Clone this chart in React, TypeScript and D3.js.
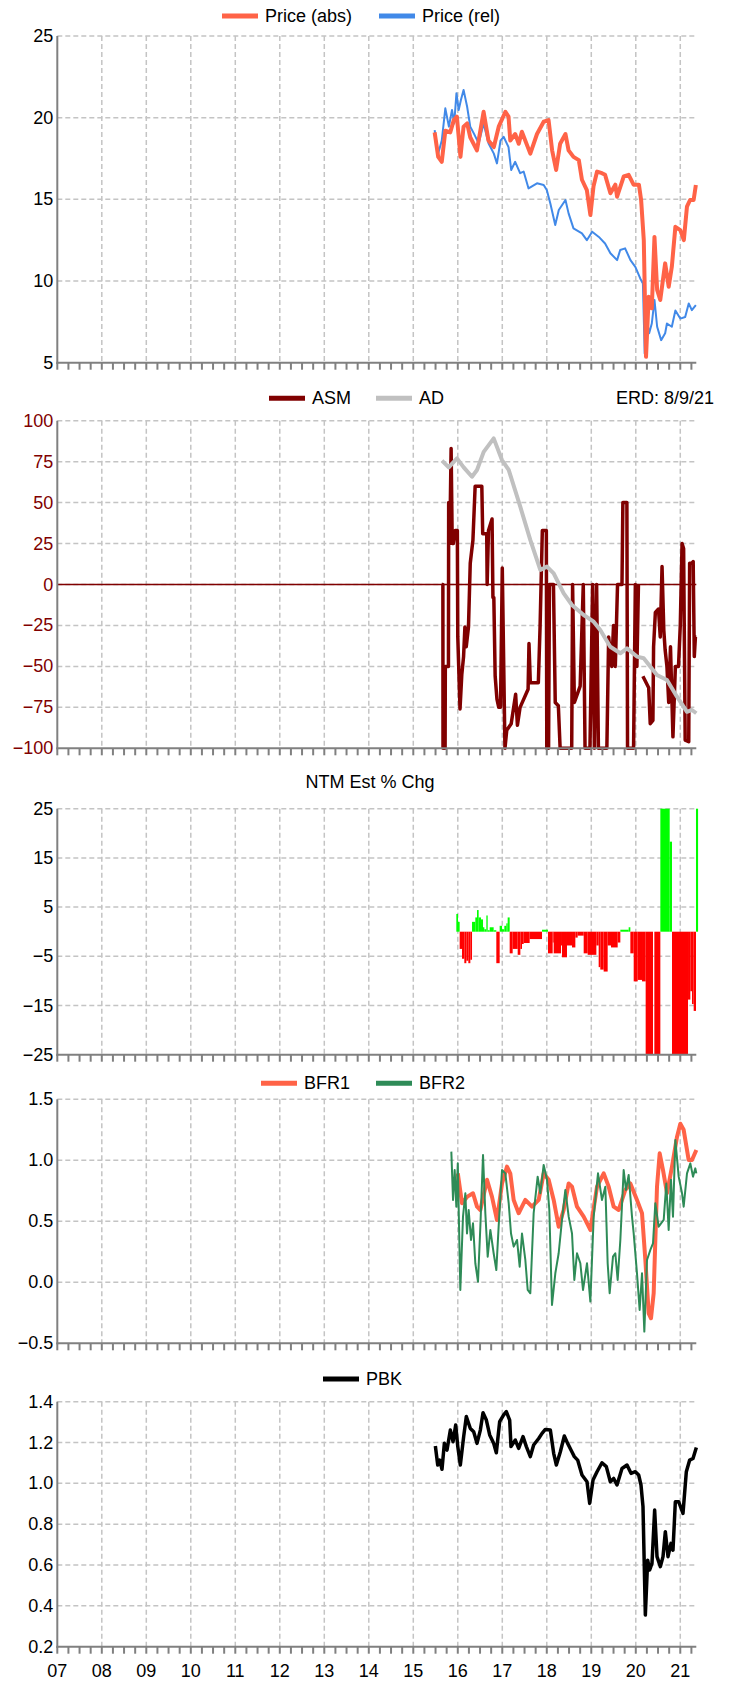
import React from "react";
import * as d3 from "d3";

// ---------------- DATA ----------------
const yearTicks = [2007, 2008, 2009, 2010, 2011, 2012, 2013, 2014, 2015, 2016, 2017, 2018, 2019, 2020, 2021];

const priceAbs: [number, number][] = [
  [2015.48, 19.1], [2015.56, 17.6], [2015.64, 17.3], [2015.72, 19.2], [2015.83, 19.1], [2015.91, 19.85],
  [2015.98, 20.06], [2016.06, 17.6], [2016.13, 19.45], [2016.21, 19.65], [2016.28, 18.8], [2016.43, 18.0],
  [2016.58, 20.36], [2016.69, 18.6], [2016.81, 18.2], [2016.92, 19.45], [2017.07, 20.36], [2017.14, 20.06],
  [2017.18, 18.6], [2017.29, 19.0], [2017.37, 18.4], [2017.44, 19.14], [2017.63, 17.8], [2017.78, 19.0],
  [2017.93, 19.75], [2018.04, 19.85], [2018.12, 18.0], [2018.21, 16.8], [2018.30, 18.4], [2018.42, 19.0],
  [2018.49, 18.0], [2018.60, 17.6], [2018.72, 17.4], [2018.79, 16.2], [2018.90, 15.57], [2018.98, 14.04],
  [2019.05, 15.8], [2019.13, 16.7], [2019.24, 16.6], [2019.31, 16.5], [2019.43, 15.37], [2019.54, 15.9],
  [2019.58, 15.16], [2019.73, 16.4], [2019.84, 16.5], [2019.95, 15.9], [2020.07, 15.9], [2020.12, 14.96],
  [2020.18, 12.5], [2020.23, 5.36], [2020.29, 9.04], [2020.36, 8.33], [2020.42, 12.7], [2020.48, 9.45],
  [2020.55, 8.84], [2020.66, 11.08], [2020.74, 9.65], [2020.81, 10.87], [2020.89, 13.32], [2021.0, 13.12],
  [2021.08, 12.5], [2021.15, 14.55], [2021.22, 14.96], [2021.30, 14.96], [2021.35, 15.88],
];

const priceRel: [number, number][] = [
  [2015.48, 19.24], [2015.56, 17.8], [2015.64, 18.6], [2015.72, 20.57], [2015.80, 19.45], [2015.87, 20.47],
  [2015.92, 19.65], [2015.97, 21.5], [2016.02, 20.47], [2016.07, 21.08], [2016.13, 21.7], [2016.21, 20.67],
  [2016.28, 19.45], [2016.36, 19.04], [2016.47, 18.43], [2016.58, 19.65], [2016.69, 18.43], [2016.81, 17.8],
  [2016.88, 17.2], [2016.96, 18.6], [2017.03, 18.83], [2017.14, 18.2], [2017.20, 16.8], [2017.29, 17.3],
  [2017.40, 16.6], [2017.48, 16.7], [2017.59, 15.67], [2017.78, 15.98], [2017.93, 15.88], [2018.0, 15.57],
  [2018.08, 14.75], [2018.19, 13.43], [2018.27, 14.35], [2018.42, 14.96], [2018.49, 14.14], [2018.60, 13.22],
  [2018.79, 12.92], [2018.90, 12.5], [2019.02, 13.02], [2019.17, 12.7], [2019.31, 12.3], [2019.43, 11.7],
  [2019.58, 11.28], [2019.65, 11.9], [2019.76, 12.0], [2019.88, 11.28], [2019.99, 10.87], [2020.10, 10.16],
  [2020.16, 9.85], [2020.20, 5.57], [2020.25, 7.6], [2020.30, 6.8], [2020.36, 7.4], [2020.42, 8.84],
  [2020.48, 7.2], [2020.57, 6.38], [2020.66, 6.8], [2020.70, 7.4], [2020.81, 7.2], [2020.89, 8.2],
  [2021.0, 7.7], [2021.11, 7.8], [2021.19, 8.63], [2021.26, 8.22], [2021.35, 8.53],
];

const asm: [number, number | null][] = [
  [2015.64, 0], [2015.665, 0], [2015.668, -100], [2015.715, -100], [2015.72, -50], [2015.79, -50],
  [2015.795, 50], [2015.81, 50], [2015.82, 25], [2015.85, 83], [2015.875, 25], [2015.90, 25],
  [2015.94, 33], [2015.99, 33], [2016.0, -32], [2016.05, -76], [2016.09, -55], [2016.13, -44],
  [2016.16, -26], [2016.19, -38], [2016.24, -26], [2016.28, 13], [2016.34, 27], [2016.39, 60],
  [2016.54, 60], [2016.56, 31], [2016.65, 31], [2016.66, 0], [2016.69, 33], [2016.77, 40],
  [2016.79, -8], [2016.81, -8], [2016.84, -56], [2016.88, -70], [2016.92, -75], [2016.96, -75],
  [2017.0, 10], [2017.06, -100], [2017.10, -89], [2017.20, -85], [2017.30, -67], [2017.34, -86],
  [2017.40, -75], [2017.58, -64], [2017.60, -36], [2017.63, -60], [2017.81, -60], [2017.85, -25],
  [2017.90, 33], [2017.99, 33], [2018.0, -100], [2018.04, -100], [2018.06, 0], [2018.15, 0],
  [2018.19, -72], [2018.26, -74], [2018.30, -100], [2018.56, -100], [2018.58, 0], [2018.62, -72],
  [2018.75, -62], [2018.82, 0], [2018.86, -100], [2018.97, -100], [2019.03, 0], [2019.07, -100],
  [2019.12, 0], [2019.16, -100], [2019.35, -100], [2019.39, -32], [2019.46, -50], [2019.50, -25],
  [2019.54, -50], [2019.59, 0], [2019.69, 0], [2019.71, 50], [2019.80, 50], [2019.815, -100],
  [2019.95, -100], [2019.99, 0], [2020.025, -50], [2020.06, 0], [2020.10, null],
  [2020.16, -56], [2020.29, -63], [2020.325, -85], [2020.385, -83], [2020.40, -38], [2020.44, -17],
  [2020.51, -15], [2020.55, -32], [2020.59, 11], [2020.63, -28], [2020.66, -40], [2020.70, -50],
  [2020.74, -72], [2020.78, -38], [2020.835, -93], [2020.89, -50], [2020.96, -50], [2021.0, -25],
  [2021.04, 25], [2021.075, 22], [2021.11, -95], [2021.19, -96], [2021.21, 13], [2021.26, 13],
  [2021.29, 14], [2021.315, -44], [2021.34, -32], [2021.36, -32],
];

const ad: [number, number][] = [
  [2015.645, 75.6], [2015.796, 71.5], [2015.982, 77], [2016.133, 71.5], [2016.319, 65.8], [2016.432, 69.9],
  [2016.582, 81], [2016.807, 89.2], [2016.993, 76], [2017.144, 70], [2017.404, 47.5], [2017.629, 27.2],
  [2017.854, 8.9], [2018.004, 10.9], [2018.155, 6.8], [2018.38, -5.4], [2018.566, -12.5], [2018.829, -18.6],
  [2019.054, -22.7], [2019.202, -27.8], [2019.427, -38], [2019.652, -42], [2019.802, -39], [2020.027, -44],
  [2020.178, -45], [2020.476, -55.2], [2020.701, -58.3], [2020.926, -68.5], [2021.151, -77.7], [2021.263, -76.6],
  [2021.36, -78.6],
];

const ntmBars: [number, number][] = [
  [2015.967, 3.6], [2016.005, 2.0], [2016.042, -3.5], [2016.095, -5.5], [2016.147, -6.4], [2016.192, -5.9],
  [2016.237, -6.4], [2016.282, -5.7], [2016.32, 2.0], [2016.394, 2.9], [2016.432, 4.4], [2016.469, 2.9],
  [2016.522, 2.5], [2016.567, 0.9], [2016.597, 0.5], [2016.642, 3.3], [2016.672, 0.3], [2016.717, 0.9],
  [2016.806, 0.3], [2016.866, -6.4], [2016.941, 1.2], [2016.994, 0.5], [2017.046, 1.2], [2017.091, 1.7],
  [2017.121, 2.9], [2017.166, -4.4], [2017.233, -3.5], [2017.346, -4.7], [2017.406, -3.5], [2017.443, -2.5],
  [2017.481, -2.3], [2017.615, -1.5], [2017.893, 0.4], [2018.027, -4.4], [2018.132, -2.2], [2018.155, -4.4],
  [2018.32, -2.8], [2018.342, -5.2], [2018.454, -2.8], [2018.567, -3.2], [2018.642, -1.2], [2018.694, -0.8],
  [2018.829, -4.4], [2018.919, -4.7], [2019.114, -2.8], [2019.166, -7.2], [2019.203, -7.7], [2019.278, -8.1],
  [2019.368, -2.8], [2019.443, -3.2], [2019.593, -2.2], [2019.653, 0.4], [2019.84, 0.9], [2019.878, -4.4],
  [2019.953, -10.1], [2020.043, -9.8], [2020.14, -10.1], [2020.222, -25], [2020.387, 0], [2020.417, -25],
  [2020.552, 25], [2020.762, 18.3], [2020.814, -25], [2021.174, -13.8], [2021.226, -12.1], [2021.263, -14.7],
  [2021.301, -16.1], [2021.353, 25],
];
const ntmEnd = 2021.4;

const bfr1: [number, number][] = [
  [2016.0, 0.893], [2016.095, 0.648], [2016.207, 0.70], [2016.342, 0.73], [2016.432, 0.62], [2016.507, 0.593],
  [2016.657, 0.84], [2016.769, 0.70], [2016.881, 0.51], [2016.994, 0.81], [2017.106, 0.948], [2017.181, 0.89],
  [2017.256, 0.675], [2017.368, 0.566], [2017.518, 0.675], [2017.668, 0.62], [2017.818, 0.675], [2017.93, 0.893],
  [2018.042, 0.84], [2018.155, 0.675], [2018.267, 0.456], [2018.379, 0.593], [2018.492, 0.81], [2018.567, 0.784],
  [2018.679, 0.62], [2018.829, 0.538], [2018.979, 0.429], [2019.129, 0.784], [2019.279, 0.893], [2019.391, 0.784],
  [2019.503, 0.62], [2019.616, 0.593], [2019.765, 0.757], [2019.878, 0.81], [2020.027, 0.675], [2020.14, 0.566],
  [2020.215, 0.183], [2020.29, -0.254], [2020.342, -0.295], [2020.402, -0.09], [2020.477, 0.784], [2020.537, 1.057],
  [2020.612, 0.92], [2020.702, 0.73], [2020.814, 0.948], [2020.927, 1.194], [2021.001, 1.30], [2021.076, 1.25],
  [2021.188, 1.003], [2021.263, 1.003], [2021.361, 1.085],
];

const bfr2: [number, number][] = [
  [2015.855, 1.071], [2015.893, 0.675], [2015.93, 0.92], [2015.967, 0.62], [2016.0, 0.975], [2016.057, -0.063],
  [2016.117, 0.538], [2016.17, 0.73], [2016.207, 0.40], [2016.245, 0.593], [2016.297, 0.347], [2016.342, 0.484],
  [2016.394, 0.156], [2016.454, 0.005], [2016.507, 0.456], [2016.567, 1.044], [2016.619, 0.566], [2016.672, 0.21],
  [2016.732, 0.429], [2016.806, 0.238], [2016.866, 0.101], [2016.918, 0.456], [2016.994, 0.92], [2017.069, 0.893],
  [2017.144, 0.648], [2017.196, 0.40], [2017.256, 0.292], [2017.331, 0.347], [2017.391, 0.128], [2017.443, 0.40],
  [2017.518, 0.183], [2017.571, -0.063], [2017.63, -0.09], [2017.705, 0.566], [2017.795, 0.866], [2017.855, 0.73],
  [2017.93, 0.962], [2018.005, 0.84], [2018.057, 0.593], [2018.117, -0.186], [2018.192, 0.074], [2018.267, 0.238],
  [2018.342, 0.511], [2018.417, 0.757], [2018.492, 0.538], [2018.567, 0.40], [2018.619, 0.019], [2018.679, 0.238],
  [2018.754, 0.156], [2018.814, -0.063], [2018.904, 0.156], [2018.979, -0.158], [2019.054, 0.538], [2019.151, 0.893],
  [2019.24, 0.675], [2019.316, 0.784], [2019.368, 0.156], [2019.413, -0.09], [2019.488, 0.21], [2019.54, 0.238],
  [2019.593, 0.019], [2019.653, 0.347], [2019.728, 0.92], [2019.78, 0.757], [2019.84, 0.88], [2019.915, 0.538],
  [2019.953, 0.40], [2020.027, 0.074], [2020.087, -0.227], [2020.14, 0.074], [2020.192, -0.404], [2020.252, 0.183],
  [2020.327, 0.265], [2020.387, 0.32], [2020.439, 0.648], [2020.514, 0.456], [2020.627, 0.511], [2020.686, 0.81],
  [2020.739, 0.429], [2020.791, 0.84], [2020.836, 0.538], [2020.889, 1.167], [2020.964, 0.866], [2021.039, 0.73],
  [2021.076, 0.62], [2021.151, 0.893], [2021.226, 0.975], [2021.286, 0.866], [2021.338, 0.934], [2021.361, 0.893],
];

const pbk: [number, number][] = [
  [2015.496, 1.183], [2015.549, 1.09], [2015.593, 1.114], [2015.645, 1.069], [2015.698, 1.196], [2015.758, 1.163],
  [2015.833, 1.261], [2015.893, 1.204], [2015.953, 1.286], [2016.0, 1.18], [2016.057, 1.09], [2016.132, 1.229],
  [2016.192, 1.327], [2016.282, 1.269], [2016.357, 1.253], [2016.432, 1.196], [2016.507, 1.261], [2016.567, 1.346],
  [2016.642, 1.31], [2016.717, 1.237], [2016.806, 1.196], [2016.866, 1.15], [2016.941, 1.302], [2017.031, 1.335],
  [2017.091, 1.351], [2017.166, 1.31], [2017.196, 1.18], [2017.293, 1.212], [2017.368, 1.171], [2017.466, 1.229],
  [2017.541, 1.18], [2017.63, 1.131], [2017.705, 1.188], [2017.818, 1.22], [2017.893, 1.245], [2017.967, 1.264],
  [2018.08, 1.261], [2018.155, 1.147], [2018.215, 1.09], [2018.305, 1.155], [2018.394, 1.232], [2018.469, 1.196],
  [2018.544, 1.163], [2018.619, 1.131], [2018.694, 1.114], [2018.791, 1.041], [2018.904, 1.008], [2018.964, 0.902],
  [2019.039, 1.016], [2019.129, 1.057], [2019.24, 1.101], [2019.338, 1.082], [2019.428, 1.008], [2019.503, 1.024],
  [2019.578, 0.992], [2019.69, 1.073], [2019.803, 1.09], [2019.893, 1.049], [2019.99, 1.057], [2020.065, 1.041],
  [2020.117, 0.992], [2020.162, 0.886], [2020.215, 0.355], [2020.267, 0.624], [2020.312, 0.576], [2020.364, 0.608],
  [2020.424, 0.869], [2020.477, 0.641], [2020.552, 0.592], [2020.612, 0.641], [2020.664, 0.763], [2020.724, 0.641],
  [2020.791, 0.706], [2020.836, 0.673], [2020.889, 0.91], [2020.964, 0.91], [2021.061, 0.853], [2021.136, 1.057],
  [2021.211, 1.114], [2021.286, 1.122], [2021.361, 1.176],
];

const p1Ticks = [5, 10, 15, 20, 25];
const p2Ticks = [-100, -75, -50, -25, 0, 25, 50, 75, 100];
const p3Ticks = [-25, -15, -5, 5, 15, 25];
const p4Ticks = [-0.5, 0, 0.5, 1.0, 1.5];
const p5Ticks = [0.2, 0.4, 0.6, 0.8, 1.0, 1.2, 1.4];

// ---------------- LAYOUT ----------------
const W = 734;
const H = 1691;
const X0 = 57.3;
const X1 = 696.3;
const FONT = "'Liberation Sans', Arial, Helvetica, sans-serif";
const FS = 18;
const GRID = "#c4c4c4";
const AXIS = "#808080";

const x = d3.scaleLinear().domain([2007, 2021.36]).range([X0, X1]);
const quarterTicks: number[] = d3.range(2007, 2021.36, 0.25);

type PanelProps = {
  top: number;
  bottom: number;
  domain: [number, number];
  ticks: number[];
  fmt: (v: number) => string;
  tickColor?: string;
  children?: (y: d3.ScaleLinear<number, number>) => React.ReactNode;
};

function Panel({ top, bottom, domain, ticks, fmt, tickColor = "#000", children }: PanelProps) {
  const y = d3.scaleLinear().domain(domain).range([bottom, top]);
  return (
    <g>
      {ticks.filter((t) => t !== domain[0]).map((t) => (
        <line key={"h" + t} x1={X0} x2={X1} y1={y(t)} y2={y(t)} stroke={GRID} strokeWidth={1.5} strokeDasharray="5,3" />
      ))}
      {yearTicks.filter((yr) => yr !== 2007).map((yr) => (
        <line key={"v" + yr} x1={x(yr)} x2={x(yr)} y1={top} y2={bottom} stroke={GRID} strokeWidth={1.5} strokeDasharray="5,3" />
      ))}
      {children && children(y)}
      <line x1={X0} x2={X0} y1={top} y2={bottom + 1} stroke={AXIS} strokeWidth={2} />
      <line x1={X0 - 1} x2={X1} y1={bottom} y2={bottom} stroke={AXIS} strokeWidth={2} />
      {quarterTicks.map((q) => (
        <line key={"q" + q} x1={x(q)} x2={x(q)} y1={bottom} y2={bottom + 7} stroke={AXIS} strokeWidth={2} />
      ))}
      {ticks.map((t) => (
        <text key={"l" + t} x={X0 - 4} y={y(t)} textAnchor="end" dominantBaseline="central" fontFamily={FONT} fontSize={FS} fill={tickColor}>
          {fmt(t)}
        </text>
      ))}
    </g>
  );
}

function Legend({ items, y }: { items: { x: number; label: string; color: string }[]; y: number }) {
  return (
    <g>
      {items.map((it) => (
        <g key={it.label}>
          <line x1={it.x} x2={it.x + 36} y1={y} y2={y} stroke={it.color} strokeWidth={5} />
          <text x={it.x + 43} y={y} dominantBaseline="central" fontFamily={FONT} fontSize={FS} fill="#000">
            {it.label}
          </text>
        </g>
      ))}
    </g>
  );
}

export default function App() {
  const fmtInt = d3.format("d");
  const fmt1 = d3.format(".1f");
  const mkLine = (y: d3.ScaleLinear<number, number>) =>
    d3
      .line<[number, number | null]>()
      .defined((d) => d[1] !== null)
      .x((d) => x(d[0]))
      .y((d) => y(d[1] as number));

  return (
    <div style={{ position: "absolute", left: 0, top: 0 }}>
      <svg width={W} height={H} style={{ display: "block", background: "#fff" }}>
        {/* Panel 1: Price */}
        <Legend y={16} items={[
          { x: 222, label: "Price (abs)", color: "#FF6347" },
          { x: 379, label: "Price (rel)", color: "#4189E8" },
        ]} />
        <Panel top={36} bottom={362.7} domain={[5, 25]} ticks={p1Ticks} fmt={fmtInt}>
          {(y) => (
            <g fill="none" strokeLinejoin="round">
              <path d={mkLine(y)(priceRel) || ""} stroke="#4189E8" strokeWidth={2} />
              <path d={mkLine(y)(priceAbs) || ""} stroke="#FF6347" strokeWidth={4} />
            </g>
          )}
        </Panel>

        {/* Panel 2: ASM / AD */}
        <Legend y={398.3} items={[
          { x: 269, label: "ASM", color: "#800000" },
          { x: 376, label: "AD", color: "#C0C0C0" },
        ]} />
        <text x={714} y={398.3} textAnchor="end" dominantBaseline="central" fontFamily={FONT} fontSize={FS}>ERD: 8/9/21</text>
        <Panel top={420.7} bottom={748.3} domain={[-100, 100]} ticks={p2Ticks} fmt={fmtInt} tickColor="#800000">
          {(y) => (
            <g fill="none" strokeLinejoin="round">
              <line x1={X0} x2={X1} y1={y(0)} y2={y(0)} stroke="#800000" strokeWidth={1.5} />
              <path d={mkLine(y)(asm) || ""} stroke="#800000" strokeWidth={3.5} />
              <path d={mkLine(y)(ad) || ""} stroke="#C0C0C0" strokeWidth={4} />
            </g>
          )}
        </Panel>

        {/* Panel 3: NTM Est % Chg */}
        <text x={370} y={781.7} textAnchor="middle" dominantBaseline="central" fontFamily={FONT} fontSize={FS}>NTM Est % Chg</text>
        <Panel top={808.7} bottom={1054.7} domain={[-25, 25]} ticks={p3Ticks} fmt={fmtInt}>
          {(y) => (
            <g>
              {ntmBars.map((b, i) => {
                const t1 = i < ntmBars.length - 1 ? ntmBars[i + 1][0] : ntmEnd;
                const xa = x(b[0]);
                const xb = x(t1);
                const ya = y(Math.max(0, b[1]));
                const yb = y(Math.min(0, b[1]));
                return (
                  <rect key={i} x={xa} y={ya} width={Math.max(0, xb - xa)} height={Math.max(0, yb - ya)}
                    fill={b[1] >= 0 ? "#00FF00" : "#FF0000"} />
                );
              })}
            </g>
          )}
        </Panel>

        {/* Panel 4: BFR */}
        <Legend y={1083.3} items={[
          { x: 261, label: "BFR1", color: "#FF6347" },
          { x: 376, label: "BFR2", color: "#2E8B57" },
        ]} />
        <Panel top={1099.3} bottom={1343.3} domain={[-0.5, 1.5]} ticks={p4Ticks} fmt={fmt1}>
          {(y) => (
            <g fill="none" strokeLinejoin="round">
              <path d={mkLine(y)(bfr1) || ""} stroke="#FF6347" strokeWidth={4} />
              <path d={mkLine(y)(bfr2) || ""} stroke="#2E8B57" strokeWidth={2} />
            </g>
          )}
        </Panel>

        {/* Panel 5: PBK */}
        <Legend y={1379} items={[{ x: 323, label: "PBK", color: "#000" }]} />
        <Panel top={1401.7} bottom={1646.7} domain={[0.2, 1.4]} ticks={p5Ticks} fmt={fmt1}>
          {(y) => (
            <g fill="none" strokeLinejoin="round">
              <path d={mkLine(y)(pbk) || ""} stroke="#000" strokeWidth={3.5} />
            </g>
          )}
        </Panel>
        {yearTicks.map((yr) => (
          <text key={"yl" + yr} x={x(yr)} y={1671} textAnchor="middle" dominantBaseline="central" fontFamily={FONT} fontSize={FS}>
            {d3.format("02d")(yr % 100)}
          </text>
        ))}
      </svg>
    </div>
  );
}
